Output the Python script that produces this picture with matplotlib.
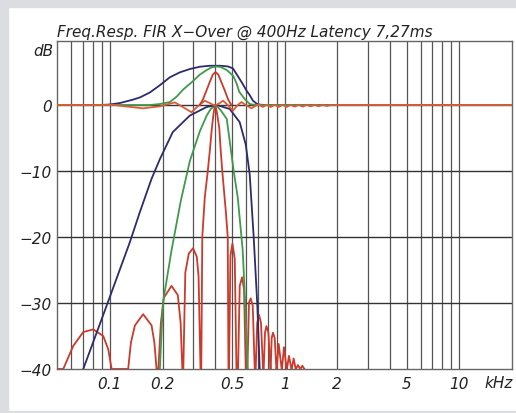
import matplotlib
matplotlib.use('Agg')
import matplotlib.pyplot as plt
from matplotlib.patches import Rectangle

# frequencies in kHz, levels in dB
navy_sum_f = [0.05, 0.0877, 0.1, 0.1141, 0.135, 0.1485, 0.1693, 0.1932, 0.2203, 0.2513, 0.2866,
              0.3269, 0.3728, 0.4253, 0.4725, 0.506, 0.539, 0.5753, 0.6045, 0.631, 0.659, 0.692,
              0.72, 0.789, 20]
navy_sum_db = [0, 0, 0.08, 0.3, 0.8, 1.15, 1.9, 3.0, 4.2, 4.95, 5.45,
               5.8, 5.95, 5.95, 5.85, 5.55, 4.4, 3.2, 2.2, 1.5, 0.65, 0.2,
               0.05, 0, 0]

navy_bp_f = [0.0704, 0.0958, 0.130, 0.1485, 0.173, 0.1932, 0.229, 0.2866, 0.358, 0.409, 0.485, 0.553, 0.599, 0.631, 0.665, 0.6966, 0.72]
navy_bp_db = [-40, -30.4, -20.8, -16.2, -11.2, -8.2, -4.1, -1.6, -0.3, 0, -0.6, -2.6, -6, -10.5, -20, -30, -40]

green_sum_f = [0.05, 0.1693, 0.1932, 0.2203, 0.2416, 0.2614, 0.2982, 0.3269, 0.358, 0.3777, 0.4035,
               0.4309, 0.4663, 0.5087, 0.532, 0.5497, 0.591, 0.631, 0.683, 20]
green_sum_db = [0, 0, 0.15, 0.45, 1.3, 2.3, 3.6, 4.6, 5.3, 5.65, 5.85,
                5.75, 5.3, 4.4, 3.2, 2.0, 0.9, 0.15, 0, 0]

green_bp_f = [0.1932, 0.201, 0.2253, 0.2546, 0.2866, 0.3269, 0.358, 0.3777, 0.4035, 0.4309, 0.4663, 0.511, 0.539, 0.5753, 0.5947, 0.614]
green_bp_db = [-40, -30, -22, -14.5, -8.5, -4, -1.6, -0.6, 0, -0.8, -2.1, -10, -14, -22, -30, -40]

red_peak_f = [0.3269, 0.340, 0.357, 0.3728, 0.3879, 0.402, 0.417, 0.4338, 0.4542, 0.4756, 0.4961]
red_peak_db = [0, 0.8, 2.2, 3.5, 4.6, 5.0, 4.6, 3.5, 2.2, 0.8, 0]

red_sum_f = [0.0505, 0.1068, 0.1219, 0.1544, 0.1932, 0.2203, 0.2352, 0.2614, 0.2931, 0.3184,
             0.3491, 0.3728, 0.3982, 0.4253, 0.4442, 0.4725, 0.5066, 0.539, 0.5658, 0.5988,
             0.6454, 0.683, 0.7105, 0.7489, 0.7893, 0.832, 0.8769, 0.9243, 0.9743, 1.027,
             1.0825, 1.1409, 1.2025, 1.2676, 1.336, 1.4082, 1.4842, 1.5645, 1.649, 1.7381,
             1.8322, 20]
red_sum_db = [0, 0, -0.2, -0.5, -0.2, 0.2, 0.4, -0.3, -1.1, -0.2,
              0.65, 0.3, -0.1, 0.3, 0.65, 0, -0.85, 0, 0.45, 0,
              -0.5, -0.1, 0.1, -0.3, 0.05, -0.3, 0.05, -0.3, 0.05, -0.3,
              0.05, -0.25, 0.05, -0.25, 0.05, -0.2, 0.05, -0.2, 0.05, -0.15,
              0, 0]

red_bp_f = [0.05, 0.0541, 0.0617, 0.0704, 0.0803, 0.0916, 0.0978, 0.1023,
            0.1272, 0.1319, 0.139, 0.155, 0.1732, 0.1797, 0.1849,
            0.1894, 0.1957, 0.2036, 0.2252, 0.2447, 0.2539, 0.2597,
            0.2631, 0.2701, 0.2828, 0.2992, 0.3142, 0.3217, 0.3299,
            0.3334, 0.3378, 0.3491, 0.3632, 0.3728, 0.3833, 0.393, 0.4008, 0.4089, 0.4225, 0.4309, 0.4395, 0.4602, 0.4725, 0.4769,
            0.4806, 0.4896, 0.5026, 0.5181, 0.5298,
            0.5411, 0.5533, 0.5703, 0.5855, 0.5988,
            0.6123, 0.6253, 0.6395, 0.6566, 0.6741,
            0.683, 0.6966, 0.7133, 0.7323, 0.7518,
            0.7588, 0.7718, 0.7862, 0.8072, 0.8287,
            0.832, 0.843, 0.8575, 0.8769, 0.8968,
            0.9003, 0.9243, 0.9615,
            0.9653, 0.9911, 1.027,
            1.031, 1.0585, 1.0925,
            1.0968, 1.126, 1.156,
            1.1606, 1.1915, 1.2265,
            1.2298, 1.2626, 1.2962]
red_bp_db = [-40, -40, -36.5, -34.4, -34, -35, -37, -40,
             -40, -36, -33.4, -31.7, -33.4, -36, -40,
             -40, -33, -29.2, -27.4, -28.8, -33, -40,
             -40, -25.4, -22.5, -21.7, -23, -26, -40,
             -40, -20, -14, -10, -7, -3.5, -1, 0, -1, -3.5, -7, -10, -16, -20, -40,
             -40, -22.8, -21, -23.3, -40,
             -40, -27.4, -26.1, -27.9, -40,
             -40, -29.9, -29.3, -30.4, -40,
             -40, -33, -31.8, -33, -40,
             -40, -34.5, -33.5, -34.5, -40,
             -40, -35.3, -34.5, -35.3, -40,
             -40, -36.2, -40,
             -40, -36.7, -40,
             -40, -38, -40,
             -40, -38.4, -40,
             -40, -39.4, -40,
             -40, -39.5, -40]

xtick_vals = [0.1, 0.2, 0.5, 1, 2, 5, 10]
xtick_text = ['0.1', '0.2', '0.5', '1', '2', '5', '10']
ytick_vals = [0, -10, -20, -30, -40]
ytick_text = ['0', '\u221210', '\u221220', '\u221230', '\u221240']

navy = '#2d2b6b'
green = '#3f9a4c'
red = '#cc3a2b'
orange = '#dd5b35'

fig = plt.figure(figsize=(5.16, 4.14), dpi=100)
fig.patch.set_facecolor('white')
frame = '#dcdde1'
fig.patches.append(Rectangle((0, 0), 8 / 516, 1, transform=fig.transFigure, color=frame, zorder=0))
fig.patches.append(Rectangle((0, 1 - 8 / 414), 1, 8 / 414, transform=fig.transFigure, color=frame, zorder=0))
fig.patches.append(Rectangle((0, 0), 1, 2 / 414, transform=fig.transFigure, color=frame, zorder=0))

ax = fig.add_axes([57.3 / 516, 1 - 370 / 414, (512 - 57.3) / 516, (370 - 42) / 414])
ax.set_xscale('log')
ax.set_xlim(0.05, 20)
ax.set_ylim(-40, 9.7)

# grid
for dec in [0.01, 0.1, 1]:
    for m in range(1, 10):
        f = dec * m
        if 0.05 < f < 20:
            ax.axvline(f, color='#555555', lw=0.9, zorder=1)
ax.axvline(10, color='#555555', lw=0.9, zorder=1)
for y in [0, -10, -20, -30]:
    ax.axhline(y, color='#333333', lw=1.0, zorder=1)
for s in ax.spines.values():
    s.set_color('#666666')
    s.set_linewidth(1.0)

lw = 1.3
ax.plot(red_bp_f, red_bp_db, color=red, lw=lw, zorder=3)
ax.plot(green_bp_f, green_bp_db, color=green, lw=lw, zorder=3)
ax.plot(navy_bp_f, navy_bp_db, color=navy, lw=lw, zorder=3)
ax.plot(navy_sum_f, navy_sum_db, color=navy, lw=lw, zorder=4)
ax.plot(green_sum_f, green_sum_db, color=green, lw=lw, zorder=4)
ax.plot(red_sum_f, red_sum_db, color=orange, lw=lw, zorder=5)
ax.plot(red_peak_f, red_peak_db, color=red, lw=lw, zorder=5)

font = dict(family='DejaVu Sans', style='oblique', size=11, color='#222222')
ax.set_xticks(xtick_vals)
ax.set_xticklabels(xtick_text, **font)
ax.set_xticks([], minor=True)
ax.set_yticks(ytick_vals)
ax.set_yticklabels(ytick_text, **font)
ax.tick_params(length=0, pad=5)
ax.tick_params(axis='y', pad=4)

ax.text(-0.008, 8.3, 'dB', transform=ax.get_yaxis_transform(), ha='right', va='center', **font)
ax.text(0.971, -0.042, 'kHz', transform=ax.transAxes, ha='center', va='center', **font)
ax.set_title('Freq.Resp. FIR X\u2212Over @ 400Hz Latency 7,27ms', loc='left', pad=4, **font)

fig.savefig('out.png', dpi=100)
